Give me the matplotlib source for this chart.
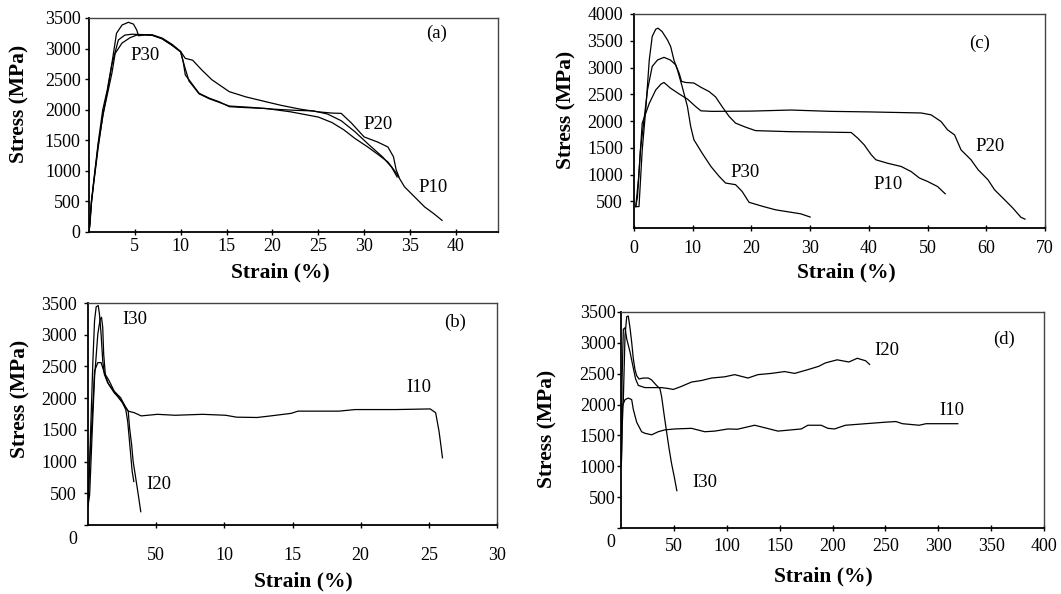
import matplotlib
matplotlib.use("Agg")
import matplotlib.pyplot as plt
from matplotlib.transforms import ScaledTranslation

plt.rcParams['font.family'] = ['Liberation Serif', 'DejaVu Serif']

# (a) stress-strain, P series
a_p10_strain = [0.0, 0.1, 0.25, 0.5, 1.0, 1.5, 2.0, 2.5, 2.85, 3.6, 4.5, 5.2, 6.0, 6.9, 7.9, 9.0, 10.0, 10.3,
                10.5, 10.9, 12.0, 13.1, 14.2, 15.3, 17.0, 19.3, 22.0, 25.0, 26.5, 27.8, 29.0, 30.4, 31.5, 32.6,
                33.5, 34.4, 35.5, 36.6, 37.6, 38.5]
a_p10_stress = [0, 150, 470, 780, 1380, 1900, 2250, 2600, 2920, 3090, 3180, 3220, 3225, 3215, 3165, 3060, 2950, 2760,
                2570, 2490, 2270, 2190, 2130, 2050, 2035, 2020, 1965, 1880, 1790, 1670, 1530, 1390, 1270, 1145,
                965, 740, 575, 410, 300, 190]
a_p20_strain = [0.0, 0.1, 0.25, 0.5, 1.0, 1.6, 2.0, 2.5, 3.2, 3.9, 4.7, 5.5, 6.9, 8.0, 9.1, 10.0, 10.5, 11.3,
                12.3, 13.4, 15.3, 17.1, 19.3, 21.0, 23.0, 25.0, 26.5, 27.5, 28.6, 30.0, 31.5, 32.6, 33.2, 33.5, 33.8]
a_p20_stress = [0, 120, 440, 800, 1420, 1980, 2300, 2740, 3140, 3220, 3235, 3230, 3225, 3170, 3065, 2950, 2840, 2810,
                2650, 2490, 2295, 2210, 2130, 2070, 2010, 1965, 1945, 1940, 1785, 1555, 1470, 1390, 1230, 1015, 900]
a_p30_strain = [0.0, 0.1, 0.25, 0.5, 1.0, 1.5, 2.0, 2.5, 3.0, 3.6, 4.3, 4.85, 5.2, 5.4, 6.2, 7.0, 8.0, 9.0, 10.0,
                10.4, 10.9, 12.0, 13.1, 15.3, 17.5, 20.0, 22.5, 24.5, 26.0, 27.5, 29.0, 30.5, 32.0, 33.0, 33.6]
a_p30_stress = [0, 160, 490, 810, 1460, 2000, 2330, 2760, 3250, 3385, 3430, 3400, 3305, 3210, 3225, 3215, 3160, 3060,
                2945, 2720, 2470, 2260, 2180, 2060, 2040, 2010, 1990, 1980, 1930, 1820, 1640, 1430, 1230, 1060, 900]

# (c) stress-strain, P series
c_p10_strain = [0.3, 0.6, 1.1, 1.7, 2.3, 3.1, 4.0, 5.1, 6.2, 7.1, 7.7, 8.1, 8.8, 10.2, 11.4, 12.8, 13.9, 15.0,
                16.2, 17.3, 19.0, 20.7, 26.7, 31.0, 37.0, 38.1, 39.2, 40.4, 41.2, 43.2, 45.5, 47.2, 48.6, 50.0,
                51.7, 53.0]
c_p10_stress = [400, 590, 1460, 2020, 2580, 3020, 3140, 3190, 3140, 3050, 2890, 2740, 2720, 2710, 2630, 2550, 2450,
                2270, 2085, 1960, 1885, 1820, 1800, 1795, 1785, 1680, 1555, 1370, 1275, 1210, 1150, 1055, 935,
                870, 775, 640]
c_p20_strain = [0.3, 0.8, 1.4, 2.6, 3.7, 4.6, 5.1, 6.2, 7.7, 9.1, 10.5, 11.4, 13.3, 20.0, 26.7, 33.6, 40.0, 48.9,
                50.6, 52.3, 53.4, 54.6, 55.7, 57.4, 58.6, 60.3, 61.4, 63.1, 64.5, 65.9, 66.6]
c_p20_stress = [400, 960, 1960, 2330, 2580, 2690, 2720, 2615, 2505, 2410, 2270, 2190, 2180, 2185, 2205, 2180, 2170,
                2150, 2115, 1990, 1835, 1740, 1460, 1275, 1090, 900, 715, 530, 375, 200, 165]
c_p30_strain = [0.3, 0.85, 1.4, 2.0, 2.6, 3.1, 3.7, 4.1, 4.8, 5.7, 6.25, 6.8, 7.4, 8.2, 9.1, 9.65, 10.2, 11.6, 13.1,
                14.5, 15.6, 17.3, 18.4, 19.6, 21.9, 24.1, 26.4, 28.4, 30.0]
c_p30_stress = [400, 400, 1460, 2210, 3140, 3580, 3715, 3735, 3670, 3515, 3390, 3140, 2955, 2645, 2270, 1900, 1650,
                1400, 1150, 965, 840, 810, 685, 480, 405, 340, 300, 265, 205]

# (b) stress-strain, I series
b_i10_strain = [0.0, 0.1, 0.36, 0.48, 0.72, 0.96, 1.2, 1.56, 1.92, 2.4, 2.77, 2.95, 3.4, 3.9, 5.1, 6.4, 8.4, 10.1,
                10.9, 12.4, 13.4, 14.9, 15.4, 17.4, 18.4, 19.6, 20.9, 22.6, 25.1, 25.5, 25.75, 25.9, 26.0]
b_i10_stress = [300, 900, 1900, 2430, 2560, 2560, 2400, 2270, 2110, 2005, 1850, 1795, 1770, 1720, 1745, 1730, 1745,
                1730, 1700, 1695, 1720, 1760, 1795, 1795, 1795, 1820, 1820, 1820, 1830, 1770, 1475, 1230, 1060]
b_i20_strain = [0.0, 0.12, 0.32, 0.48, 0.72, 0.89, 0.99, 1.08, 1.15, 1.28, 1.51, 1.92, 2.28, 2.64, 2.95, 3.05,
                3.2, 3.31, 3.5, 3.65, 3.87]
b_i20_stress = [300, 475, 1530, 2325, 3010, 3245, 3275, 3115, 2695, 2350, 2220, 2085, 2005, 1900, 1795, 1530,
                1265, 1005, 740, 530, 210]
b_i30_strain = [0.0, 0.12, 0.24, 0.36, 0.48, 0.6, 0.75, 0.84, 0.96, 1.08, 1.2, 1.44, 1.8, 2.16, 2.52, 2.77, 2.91,
                3.0, 3.13, 3.24, 3.36]
b_i30_stress = [300, 1000, 1795, 2590, 3220, 3440, 3460, 3325, 3010, 2590, 2375, 2245, 2140, 2030, 1930, 1820, 1635,
                1425, 1110, 845, 685]

# (d) stress-strain, I series
d_i10_strain = [0.3, 0.8, 1.2, 3.8, 6.9, 10.1, 11.6, 14.8, 19.5, 22.6, 29.0, 35.2, 41.5, 50.9, 66.7, 79.2, 88.7,
                101.2, 110.0, 120.1, 126.4, 135.8, 148.4, 161.0, 170.5, 176.7, 189.3, 195.6, 201.9, 212.3,
                231.3, 250.3, 260.0, 266.2, 282.0, 288.4, 318.5]
d_i10_stress = [1000, 1500, 1975, 2080, 2105, 2080, 1925, 1715, 1560, 1535, 1510, 1560, 1590, 1605, 1615, 1560, 1570,
                1605, 1600, 1640, 1665, 1625, 1570, 1590, 1605, 1665, 1665, 1615, 1605, 1665,
                1690, 1715, 1725, 1690, 1665, 1690, 1690]
d_i20_strain = [0.3, 1.0, 2.2, 3.8, 5.4, 8.5, 11.6, 13.8, 16.4, 22.6, 32.1, 38.4, 44.7, 49.4, 57.2, 66.7, 76.1,
                85.6, 98.1, 107.5, 120.1, 129.5, 142.1, 154.7, 164.2, 177.5, 187.0, 193.3, 204.4, 215.5, 223.4,
                231.3, 235.1]
d_i20_stress = [1000, 2400, 3220, 3245, 3065, 2855, 2595, 2415, 2310, 2275, 2275, 2275, 2260, 2245, 2295, 2365, 2390,
                2430, 2450, 2485, 2430, 2485, 2505, 2535, 2505, 2570, 2620, 2675, 2725, 2690, 2750,
                2710, 2650]
d_i30_strain = [0.3, 1.0, 2.2, 3.8, 5.4, 6.9, 8.5, 10.1, 11.6, 13.2, 14.8, 17.0, 21.1, 25.8, 28.9, 33.6, 36.8, 38.4,
                40.9, 43.1, 45.3, 47.8, 50.3, 52.8]
d_i30_stress = [1000, 1600, 2080, 3115, 3425, 3435, 3245, 3010, 2750, 2570, 2470, 2415, 2430, 2430, 2400, 2310, 2260,
                2130, 1820, 1560, 1305, 1045, 835, 605]

W, H = 1061, 594
fig = plt.figure(figsize=(W / 100, H / 100), dpi=100)


def px_axes(left, top, right, bottom):
    return fig.add_axes([left / W, 1 - bottom / H, (right - left) / W, (bottom - top) / H])


def style(ax, xpad, ypad):
    for side in ['left', 'bottom']:
        ax.spines[side].set_linewidth(1.3)
    for side in ['top', 'right']:
        ax.spines[side].set_linewidth(1.0)
        ax.spines[side].set_color('#444444')
    ax.tick_params(axis='x', direction='inout', length=5, width=1, pad=xpad, labelsize=13)
    ax.tick_params(axis='y', direction='out', length=3, width=1, pad=ypad, labelsize=13)
    ax.tick_params(top=False, right=False)


def labels(ax, xpos, ypos):
    ax.text(xpos[0], xpos[1], 'Strain (%)', transform=ax.transAxes, ha='center', va='center',
            fontsize=15.5, fontweight='bold')
    ax.text(ypos[0], ypos[1], 'Stress (MPa)', transform=ax.transAxes, ha='center', va='center',
            rotation=90, fontsize=15.5, fontweight='bold')


def drop_zero_label(ax):
    # the 0 on the stress axis sits a little lower than the others
    lbl = ax.get_yticklabels()[0]
    lbl.set_transform(lbl.get_transform() + ScaledTranslation(0, -9 / 72, fig.dpi_scale_trans))


line = dict(color='black', lw=0.9)
note = dict(fontsize=13.5, ha='center', va='center')

# panel (a)
ax = px_axes(89, 18, 498, 232)
ax.plot(a_p10_strain, a_p10_stress, **line)
ax.plot(a_p20_strain, a_p20_stress, **line)
ax.plot(a_p30_strain, a_p30_stress, **line)
ax.set_xlim(0, 44.6)
ax.set_ylim(0, 3500)
ax.set_xticks(range(5, 45, 5))
ax.set_yticks(range(0, 4000, 500))
style(ax, 2, 3)
labels(ax, (0.467, -0.19), (-0.169, 0.6))
ax.text(37.9, 3255, '(a)', **note)
ax.text(6.1, 2880, 'P30', **note)
ax.text(31.5, 1760, 'P20', **note)
ax.text(37.5, 720, 'P10', **note)

# panel (c)
ax = px_axes(634, 14, 1045, 228)
ax.plot(c_p30_strain, c_p30_stress, **line)
ax.plot(c_p10_strain, c_p10_stress, **line)
ax.plot(c_p20_strain, c_p20_stress, **line)
ax.set_xlim(0, 70)
ax.set_ylim(0, 4000)
ax.set_xticks(range(0, 80, 10))
ax.set_yticks(range(500, 4500, 500))
style(ax, 6, 5)
labels(ax, (0.517, -0.21), (-0.164, 0.55))
ax.text(58.8, 3460, '(c)', **note)
ax.text(19.0, 1030, 'P30', **note)
ax.text(43.2, 810, 'P10', **note)
ax.text(60.7, 1520, 'P20', **note)

# panel (b)
ax = px_axes(88, 303, 497, 525)
ax.plot(b_i10_strain, b_i10_stress, **line)
ax.plot(b_i20_strain, b_i20_stress, **line)
ax.plot(b_i30_strain, b_i30_stress, **line)
ax.set_xlim(0, 30)
ax.set_ylim(0, 3500)
ax.set_xticks(range(5, 35, 5))
ax.set_xticklabels(['50', '10', '15', '20', '25', '30'])
ax.set_yticks(range(0, 4000, 500))
style(ax, 13, 5)
labels(ax, (0.526, -0.255), (-0.166, 0.568))
drop_zero_label(ax)
ax.text(26.9, 3195, '(b)', **note)
ax.text(3.4, 3240, 'I30', **note)
ax.text(5.2, 635, 'I20', **note)
ax.text(24.3, 2165, 'I10', **note)

# panel (d)
ax = px_axes(621, 312, 1044, 528)
ax.plot(d_i10_strain, d_i10_stress, **line)
ax.plot(d_i20_strain, d_i20_stress, **line)
ax.plot(d_i30_strain, d_i30_stress, **line)
ax.set_xlim(0, 400)
ax.set_ylim(0, 3500)
ax.set_xticks(range(50, 450, 50))
ax.set_yticks(range(0, 4000, 500))
style(ax, 5, 1)
labels(ax, (0.478, -0.225), (-0.173, 0.458))
drop_zero_label(ax)
ax.text(362, 3060, '(d)', **note)
ax.text(251, 2880, 'I20', **note)
ax.text(313, 1900, 'I10', **note)
ax.text(79, 730, 'I30', **note)

fig.savefig('out.png', dpi=100)
